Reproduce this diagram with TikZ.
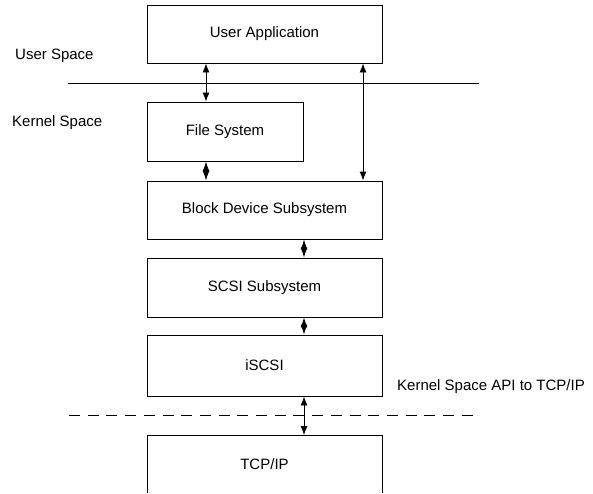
\documentclass[tikz,border=0pt]{standalone}
\usepackage{fontspec}
\setmainfont{Liberation Sans}
\usetikzlibrary{arrows.meta}
\begin{document}
\begin{tikzpicture}[x=1pt,y=-1pt,
  box/.style={draw, line width=0.9pt, minimum width=235pt, minimum height=58pt, inner sep=0pt, font=\fontsize{15}{17}\selectfont},
  lbl/.style={inner sep=0pt, font=\fontsize{15}{17}\selectfont},
  dbl/.style={line width=0.9pt, {Latex[length=9pt,width=7pt]}-{Latex[length=9pt,width=7pt]}},
  dia/.style={line width=0.9pt, {Latex[length=10pt,width=7pt]}-{Latex[length=10pt,width=7pt]}}]
\useasboundingbox (0,0) rectangle (593,493);
\node[box] (ua) at (264.5,34) {User Application};
\node[box, minimum width=156pt, minimum height=59pt] (fs) at (225,131.5) {File System};
\node[box] (bds) at (264.5,210) {Block Device Subsystem};
\node[box, minimum height=59pt] (scsi) at (264.5,287.5) {SCSI Subsystem};
\node[box, minimum height=61pt] (iscsi) at (264.5,365.5) {iSCSI};
\node[box, draw=none, minimum height=58pt] (tcp) at (264.5,464) {TCP/IP};
\draw[line width=0.9pt] (147,493) -- (147,435) -- (382,435) -- (382,493);
\coordinate (tcptop) at (264.5,435);
\node[lbl, anchor=west] (us) at (15,56) {User Space};
\node[lbl, anchor=west] (ks) at (12,123) {Kernel Space};
\node[lbl, anchor=west] (api) at (397,387) {Kernel Space API to TCP/IP};
\coordinate (hl1) at (68,83);
\coordinate (hl2) at (479,83);
\draw[line width=0.9pt] (hl1) -- (hl2);
\coordinate (dl1) at (69,415);
\coordinate (dl2) at (474,415);
\draw[line width=0.9pt, dash pattern=on 11pt off 7.7pt] (dl1) -- (dl2);
\coordinate (ax) at (206,0);
\coordinate (bx) at (363,0);
\coordinate (cx) at (304,0);
\draw[dbl] (ua.south -| ax) -- (fs.north -| ax);
\draw[dbl] (ua.south -| bx) -- (bds.north -| bx);
\draw[dia] (fs.south -| ax) -- (bds.north -| ax);
\draw[dia] (bds.south -| cx) -- (scsi.north -| cx);
\draw[dia] (scsi.south -| cx) -- (iscsi.north -| cx);
\draw[dbl] (iscsi.south -| cx) -- (tcptop -| cx);
\end{tikzpicture}
\end{document}
